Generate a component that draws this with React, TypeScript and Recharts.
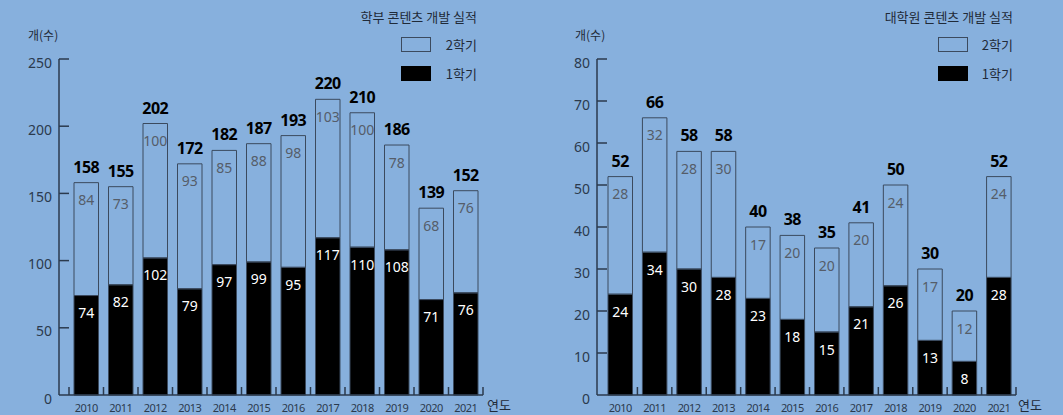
import { Bar, BarChart, LabelList, XAxis, YAxis } from 'recharts';

const YEARS = ['2010', '2011', '2012', '2013', '2014', '2015', '2016', '2017', '2018', '2019', '2020', '2021'];

// 학부
const UG_FIRST = [74, 82, 102, 79, 97, 99, 95, 117, 110, 108, 71, 76];
const UG_SECOND = [84, 73, 100, 93, 85, 88, 98, 103, 100, 78, 68, 76];
const UG_TICKS = [0, 50, 100, 150, 200, 250];

// 대학원
const GR_FIRST = [24, 34, 30, 28, 23, 18, 15, 21, 26, 13, 8, 28];
const GR_SECOND = [28, 32, 28, 30, 17, 20, 20, 20, 24, 17, 12, 24];
const GR_TICKS = [0, 10, 20, 30, 40, 50, 60, 70, 80];

const BG = '#87b0dd';
const AXIS = '#2b3a4d';
const OUTLINE = '#3b4a5e';
const GRAY_TEXT = '#555d69';
const FONT = "'Noto Sans', 'Noto Sans CJK KR', sans-serif";
const KR_FONT = "'Noto Sans CJK KR', 'Noto Sans', sans-serif";

const buildRows = (first: number[], second: number[]) =>
  YEARS.map((year, i) => ({ year, first: first[i], second: second[i], total: first[i] + second[i] }));

const YTick = (props: any) => {
  const x = Number(props.x);
  const y = Number(props.y);
  const v = props.payload.value;
  return (
    <g>
      {v !== 0 && <line x1={x} x2={x + 10} y1={y} y2={y} stroke={AXIS} strokeWidth={1.5} />}
      <text x={x - 7} y={y + 3} textAnchor="end" dominantBaseline="central" fontSize={14} fill={AXIS} fontFamily={FONT}>
        {v}
      </text>
    </g>
  );
};

const YearTick = (props: any) => {
  const x = Number(props.x);
  const y = Number(props.y);
  const { step, skipFirst, index, payload } = props;
  const left = x - step / 2;
  return (
    <g>
      {!(skipFirst && index === 0) && <line x1={left} x2={left} y1={y} y2={y - 8} stroke={AXIS} strokeWidth={1.5} />}
      {index === YEARS.length - 1 && (
        <line x1={x + step / 2} x2={x + step / 2} y1={y} y2={y - 8} stroke={AXIS} strokeWidth={1.5} />
      )}
      <text x={x} y={y + 12} textAnchor="middle" dominantBaseline="central" fontSize={11} letterSpacing={-0.6} fill={AXIS} fontFamily={FONT}>
        {payload.value}
      </text>
    </g>
  );
};

const makeInnerLabel = (color: string) => (props: any) => {
  const x = Number(props.x);
  const y = Number(props.y);
  const w = Number(props.width);
  return (
    <text x={x + w / 2} y={y + 17} textAnchor="middle" dominantBaseline="central" fontSize={14} fill={color} fontFamily={FONT}>
      {props.value}
    </text>
  );
};

const TotalLabel = (props: any) => {
  const x = Number(props.x);
  const y = Number(props.y);
  const w = Number(props.width);
  return (
    <text x={x + w / 2} y={y - 16} textAnchor="middle" dominantBaseline="central" fontSize={16} fontWeight={700} letterSpacing={-0.5} fill="#000" fontFamily={FONT}>
      {props.value}
    </text>
  );
};

const WhiteLabel = makeInnerLabel('#ffffff');
const GrayLabel = makeInnerLabel(GRAY_TEXT);

interface ChartProps {
  rows: ReturnType<typeof buildRows>;
  ticks: number[];
  width: number;
  yAxisWidth: number;
  marginRight: number;
  padLeft: number;
  skipFirstTick: boolean;
}

function SemesterChart({ rows, ticks, width, yAxisWidth, marginRight, padLeft, skipFirstTick }: ChartProps) {
  const step = (width - yAxisWidth - marginRight - padLeft) / YEARS.length;
  return (
    <BarChart width={width} height={415} data={rows} margin={{ top: 59, right: marginRight, left: 0, bottom: 0 }} barSize={24.5}>
      <XAxis
        dataKey="year"
        height={20}
        interval={0}
        tickLine={false}
        tickSize={0}
        tickMargin={0}
        padding={{ left: padLeft, right: 0 }}
        axisLine={{ stroke: AXIS, strokeWidth: 1.5 }}
        tick={(p: any) => <YearTick {...p} step={step} skipFirst={skipFirstTick} />}
      />
      <YAxis
        width={yAxisWidth}
        domain={[0, ticks[ticks.length - 1]]}
        ticks={ticks}
        interval={0}
        tickLine={false}
        tickSize={0}
        tickMargin={0}
        axisLine={{ stroke: AXIS, strokeWidth: 1.5 }}
        tick={YTick}
      />
      <Bar dataKey="first" stackId="s" fill="#000" stroke={OUTLINE} strokeWidth={1} isAnimationActive={false}>
        <LabelList dataKey="first" content={WhiteLabel} />
      </Bar>
      <Bar dataKey="second" stackId="s" fill="transparent" stroke={OUTLINE} strokeWidth={1} isAnimationActive={false}>
        <LabelList dataKey="second" content={GrayLabel} />
        <LabelList dataKey="total" content={TotalLabel} />
      </Bar>
    </BarChart>
  );
}

interface HeaderProps {
  title: string;
  unitLeft: number;
  right: number;
  boxLeft: number;
  yearLeft: number;
}

function Header({ title, unitLeft, right, boxLeft, yearLeft }: HeaderProps) {
  const txt = { position: 'absolute' as const, fontFamily: KR_FONT, color: '#1f2a38', lineHeight: '16px', whiteSpace: 'nowrap' as const };
  return (
    <>
      <div style={{ ...txt, left: unitLeft, top: 27, fontSize: 12 }}>개(수)</div>
      <div style={{ ...txt, right: 1063 - right, top: 9, fontSize: 13 }}>{title}</div>
      <div style={{ position: 'absolute', left: boxLeft, top: 37, width: 30, height: 15, boxSizing: 'border-box', border: `1px solid ${OUTLINE}` }} />
      <div style={{ ...txt, right: 1063 - right, top: 37, fontSize: 13 }}>2학기</div>
      <div style={{ position: 'absolute', left: boxLeft, top: 66, width: 30, height: 15, background: '#000' }} />
      <div style={{ ...txt, right: 1063 - right, top: 66, fontSize: 13 }}>1학기</div>
      <div style={{ ...txt, left: yearLeft, top: 397, fontSize: 13 }}>연도</div>
    </>
  );
}

export default function App() {
  return (
    <div style={{ position: 'fixed', left: 0, top: 0, width: 1063, height: 415, background: BG, overflow: 'hidden' }}>
      <div style={{ position: 'absolute', left: 0, top: 0 }}>
        <SemesterChart rows={buildRows(UG_FIRST, UG_SECOND)} ticks={UG_TICKS} width={531} yAxisWidth={59} marginRight={48} padLeft={10} skipFirstTick={false} />
      </div>
      <div style={{ position: 'absolute', left: 531, top: 0 }}>
        <SemesterChart rows={buildRows(GR_FIRST, GR_SECOND)} ticks={GR_TICKS} width={532} yAxisWidth={66} marginRight={47} padLeft={6} skipFirstTick={true} />
      </div>
      <Header title="학부 콘텐츠 개발 실적" unitLeft={28} right={477} boxLeft={401} yearLeft={487} />
      <Header title="대학원 콘텐츠 개발 실적" unitLeft={575} right={1013} boxLeft={938} yearLeft={1018} />
    </div>
  );
}
